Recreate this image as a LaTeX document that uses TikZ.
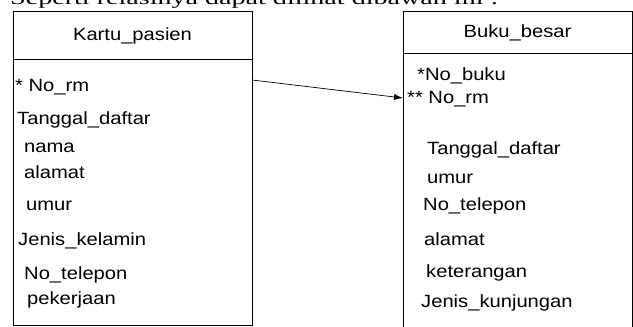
\documentclass[tikz,border=0pt]{standalone}
\usepackage{fontspec}
\setmainfont{Liberation Serif}
\newfontfamily\boxfont[FakeStretch=1.14]{Liberation Sans}
\newfontfamily\pagefont[FakeStretch=1.56]{Liberation Serif}
\usetikzlibrary{arrows.meta}
\tikzset{
  tablebox/.style={draw, line width=0.8pt, anchor=north west, inner sep=0pt, outer sep=0pt},
  tablehead/.style={anchor=base, inner sep=0pt, font=\boxfont\fontsize{17.7}{20}\selectfont},
  field/.style={anchor=base west, inner sep=0pt, font=\boxfont\fontsize{17.7}{20}\selectfont}
}
\begin{document}
\begin{tikzpicture}[x=1pt, y=-1pt]
  \useasboundingbox (0,0) rectangle (633,327);
  \clip (0,0) rectangle (633,327);

  % line of the page above the tables, cut off at the top
  \node[anchor=base west, inner sep=0pt, font=\pagefont\fontsize{18}{21}\selectfont] (intro) at (10,4.5) {Seperti relasinya dapat dilihat dibawah ini :};

  % Kartu_pasien
  \node[tablebox, minimum width=239pt, minimum height=314pt] (kartu) at (13,11) {};
  \draw[line width=0.8pt] ([yshift=-48pt]kartu.north west) -- ([yshift=-48pt]kartu.north east);
  \node[tablehead] (kartuhead) at (132.5,40) {Kartu\_pasien};
  \node[field] (k1) at (15,91) {* No\_rm};
  \node[field] (k2) at (17,124) {Tanggal\_daftar};
  \node[field] (k3) at (24,152) {nama};
  \node[field] (k4) at (24,178) {alamat};
  \node[field] (k5) at (26,210) {umur};
  \node[field] (k6) at (18,245) {Jenis\_kelamin};
  \node[field] (k7) at (24,279) {No\_telepon};
  \node[field] (k8) at (27,304) {pekerjaan};

  % Buku_besar, runs past the bottom of the picture
  \node[tablebox, minimum width=229.5pt, minimum height=340pt] (buku) at (403,11) {};
  \draw[line width=0.8pt] ([yshift=-42pt]buku.north west) -- ([yshift=-42pt]buku.north east);
  \node[tablehead] (bukuhead) at (517.5,37) {Buku\_besar};
  \node[field] (b1) at (417,80) {*No\_buku};
  \node[field] (b2) at (407,103) {** No\_rm};
  \node[field] (b3) at (427,154) {Tanggal\_daftar};
  \node[field] (b4) at (427,183) {umur};
  \node[field] (b5) at (423,210) {No\_telepon};
  \node[field] (b6) at (424,245) {alamat};
  \node[field] (b7) at (426,277) {keterangan};
  \node[field] (b8) at (421,307) {Jenis\_kunjungan};

  % No_rm relation
  \draw[line width=0.7pt, -{Latex[length=9pt,width=6pt]}] ([yshift=-69pt]kartu.north east) -- ([yshift=-87pt]buku.north west);
\end{tikzpicture}
\end{document}
